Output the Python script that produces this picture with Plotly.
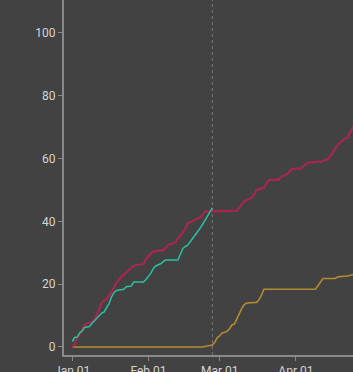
import pandas as pd
import plotly.graph_objects as go

START = "2020-01-01"

# days since Jan 01 2020, and cumulative values
red_days = [0, 1, 2, 3, 4, 5, 6, 7, 8, 9, 10, 11, 12, 13, 14, 15, 16, 17, 18, 19,
            20, 21, 22, 23, 24, 25, 26, 27, 28, 29, 30, 31, 32, 33, 34, 35, 36, 37, 38, 39,
            40, 41, 42, 43, 44, 45, 46, 47, 48, 49, 50, 51, 52, 53, 54, 67, 68, 69, 70, 71,
            72, 73, 74, 75, 76, 77, 78, 79, 80, 81, 84, 85, 86, 87, 88, 89, 90, 93, 94, 95,
            96, 97, 101, 102, 104, 105, 106, 107, 108, 109, 110, 111, 112, 113, 114, 115]
red_vals = [0, 1, 3, 4, 5.5, 7, 7.5, 7.7, 8, 8.5, 10.2, 12, 14, 14.8, 15.3, 16.5, 17.5, 19, 20.5, 21.3,
            22.5, 23, 23.8, 24.5, 25, 25.8, 26.1, 26.2, 26.3, 26.4, 28, 29, 29.8, 30.4, 30.6, 30.6, 30.7, 30.7, 31.5, 32.5,
            32.7, 33, 33.3, 34.5, 35.5, 36.5, 37.5, 39.4, 39.8, 40, 40.4, 40.8, 41.2, 42, 43.1, 43.4, 44.5, 45.5, 46.4, 46.8,
            47.2, 47.5, 48.5, 50, 50.2, 50.5, 50.7, 52, 53, 53.2, 53.2, 54.2, 54.5, 54.8, 55.5, 56.5, 56.7, 56.9, 57.5, 58.2,
            58.7, 58.8, 59, 59.3, 59.8, 60.8, 62, 63.2, 64.3, 65, 65.9, 66.3, 66.6, 68.3, 69.8, 71]

teal_days = [0, 1, 2, 3, 4, 5, 6, 7, 8, 9, 10, 11, 12, 13, 14, 15, 16, 17, 18, 19,
             20, 21, 22, 23, 24, 25, 29, 30, 31, 32, 33, 34, 35, 36, 37, 38, 43, 44, 45, 46,
             47, 48, 49, 50, 51, 52, 53, 54, 55, 56, 57]
teal_vals = [1.7, 3.1, 3.1, 4.5, 5, 6.2, 6.4, 6.5, 7.5, 8.3, 9.1, 10, 10.8, 11.2, 12.5, 13.9, 16, 17.3, 18, 18.2,
             18.3, 18.4, 19.2, 19.4, 19.4, 20.7, 20.7, 21.5, 22.5, 23.5, 25, 25.8, 26.2, 26.5, 27.2, 27.7, 27.7, 29.5, 31.4, 32,
             32.5, 33.5, 34.5, 35.5, 36.5, 37.8, 39, 40.3, 41.5, 43, 44.3]

gold_days = [0, 53, 55, 57, 58, 59, 60, 61, 62, 63, 64, 65, 66, 67, 68, 69, 70, 71, 75, 76,
             77, 78, 99, 100, 101, 102, 107, 108, 109, 112, 114, 115]
gold_vals = [0, 0, 0.3, 0.6, 1.5, 3, 3.5, 4.5, 4.7, 5, 5.8, 7, 7.3, 9, 11, 12.3, 13.5, 14, 14.2, 15,
             16.5, 18.4, 18.4, 19.5, 20.5, 21.8, 21.8, 22.3, 22.4, 22.6, 23, 23.3]

marker_date = "2020-02-27"
y_ticks = [0, 20, 40, 60, 80, 100]


def to_dates(days):
    return pd.Timestamp(START) + pd.to_timedelta(days, unit="D")


BG = "#424242"
AXIS = "#8a8a8a"
TXT = "#d4d4d4"

fig = go.Figure()
fig.add_trace(go.Scatter(x=to_dates(gold_days), y=gold_vals, mode="lines",
                         line=dict(color="#b48a30", width=1.6), showlegend=False))
fig.add_trace(go.Scatter(x=to_dates(red_days), y=red_vals, mode="lines",
                         line=dict(color="#a8274f", width=2.2), showlegend=False))
fig.add_trace(go.Scatter(x=to_dates(teal_days), y=teal_vals, mode="lines",
                         line=dict(color="#27c2a0", width=1.5), showlegend=False))

fig.add_shape(type="line", xref="x", yref="paper", x0=marker_date, x1=marker_date, y0=0, y1=1,
              line=dict(color="#7a7a7a", width=1, dash="dot"), layer="below")

fig.update_layout(
    width=353, height=372,
    margin=dict(l=64, r=0, t=0, b=17, autoexpand=False),
    paper_bgcolor=BG, plot_bgcolor=BG,
    font=dict(family="Roboto", size=12, color=TXT),
    xaxis=dict(range=["2019-12-28 15:30", "2020-04-24 06:00"], automargin=False,
               tick0="2020-01-01", dtick="M1", tickformat="%b %d",
               showgrid=False, zeroline=False, showline=True, linecolor=AXIS, linewidth=2,
               ticks="outside", ticklen=4, tickcolor=AXIS, tickwidth=1),
    yaxis=dict(range=[-2.55, 110.5], tickvals=y_ticks, automargin=False,
               showgrid=False, zeroline=False, showline=True, linecolor=AXIS, linewidth=2,
               ticks="outside", ticklen=4, tickcolor=AXIS, tickwidth=1),
)

fig.write_html("out.html")
